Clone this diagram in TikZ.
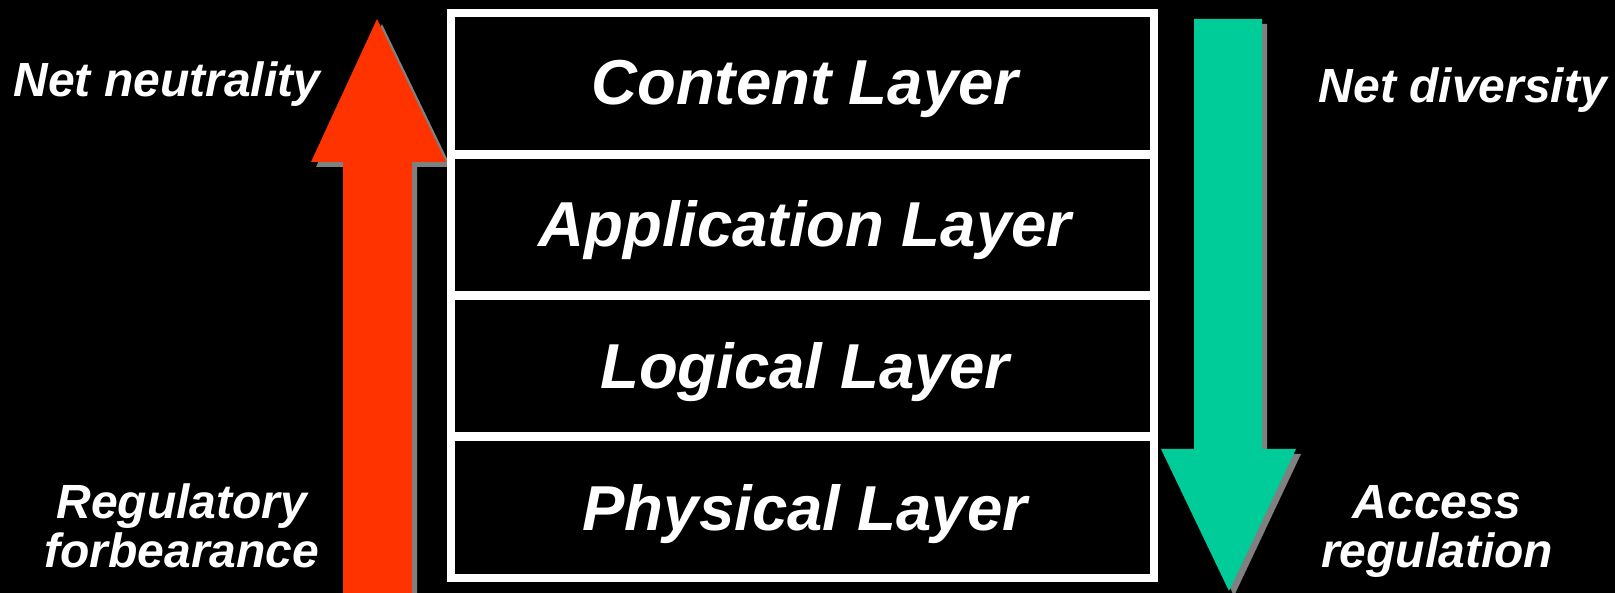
\documentclass[tikz,border=0pt]{standalone}
\usepackage{fontspec}
\setmainfont{Liberation Sans}
\definecolor{uparrow}{RGB}{255,51,0}
\definecolor{downarrow}{RGB}{0,204,153}
\definecolor{arrowshadow}{RGB}{128,128,128}
\begin{document}
\begin{tikzpicture}[x=1pt,y=-1pt,
  layer/.style={draw=white, line width=8.5pt, fill=black,
    minimum width=703pt, minimum height=141.25pt, inner sep=0pt, outer sep=0pt},
  layertext/.style={text=white, inner sep=0pt, anchor=base,
    font=\fontsize{63.5}{63.5}\selectfont\bfseries\itshape},
  sidetext/.style={text=white, inner sep=0pt, align=center,
    font=\fontsize{48}{49}\selectfont\bfseries\itshape},
  shadowed/.style={shift={(5,5)}, fill=arrowshadow},
]
% canvas
\fill[black] (0,0) rectangle (1615,593);
\useasboundingbox (0,0) rectangle (1615,593);

% upward arrow (left) with drop shadow
\fill[shadowed] (377,19) -- (446,162) -- (412,162) -- (412,600) -- (343,600) -- (343,162) -- (311,162) -- cycle;
\fill[uparrow] (377,19) -- (446,162) -- (412,162) -- (412,600) -- (343,600) -- (343,162) -- (311,162) -- cycle;

% downward arrow (right) with drop shadow
\fill[shadowed] (1194,19) -- (1262,19) -- (1262,449) -- (1296,449) -- (1229,591) -- (1161,449) -- (1194,449) -- cycle;
\fill[downarrow] (1194,19) -- (1262,19) -- (1262,449) -- (1296,449) -- (1229,591) -- (1161,449) -- (1194,449) -- cycle;

% stack of layers
\node[layer] (content)  at (802.5,83.6)  {};
\node[layer] (application) at (802.5,224.9) {};
\node[layer] (logical)  at (802.5,366.1) {};
\node[layer] (physical) at (802.5,507.4) {};

\node[layertext] (contenttxt)  at (805,105) {Content Layer};
\node[layertext] (applicationtxt) at (805,247) {Application Layer};
\node[layertext] (logicaltxt)  at (805,388.5) {Logical Layer};
\node[layertext] (physicaltxt) at (805,530) {Physical Layer};

% side labels
\node[sidetext, anchor=base] (neutrality) at (167,97) {Net neutrality};
\node[sidetext, anchor=base] (diversity) at (1463,103) {Net diversity};
\node[sidetext] (forbearance) at (182,526) {Regulatory\\forbearance};
\node[sidetext] (access) at (1437,531) {Access\\regulation};
\end{tikzpicture}
\end{document}
